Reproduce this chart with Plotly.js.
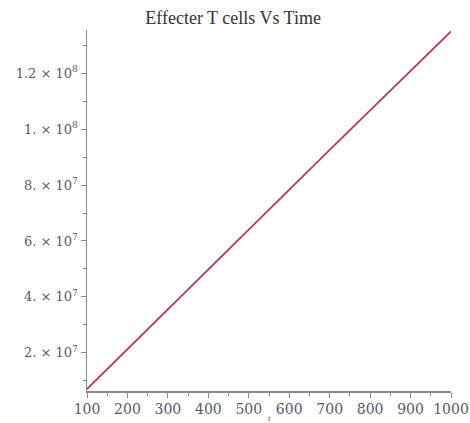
<!DOCTYPE html>
<html>
<head>
<meta charset="utf-8">
<script src="https://cdn.plot.ly/plotly-3.0.1.min.js"></script>
<style>html,body{margin:0;padding:0;background:#fff;}#chart{width:470px;height:423px;}</style>
</head>
<body>
<div id="chart"></div>
<script>
const time = [100, 200, 300, 400, 500, 600, 700, 800, 900, 1000];
const effectorT = [7.0e6, 2.13e7, 3.57e7, 5.0e7, 6.43e7, 7.85e7, 9.26e7, 1.067e8, 1.208e8, 1.35e8];
const yTickVals = [2e7, 4e7, 6e7, 8e7, 1e8, 1.2e8];
const yTickText = ["2. × 10<sup>7</sup>", "4. × 10<sup>7</sup>", "6. × 10<sup>7</sup>", "8. × 10<sup>7</sup>", "1. × 10<sup>8</sup>", "1.2 × 10<sup>8</sup>"];
const xTickVals = [100, 200, 300, 400, 500, 600, 700, 800, 900, 1000];
const xLabel = "t";

const yfont = {family: "DejaVu Serif, serif", size: 13, color: "#58586a"};
const xfont = {family: "DejaVu Serif, serif", size: 14, color: "#58586a"};
Plotly.newPlot("chart", [{
  x: time, y: effectorT, type: "scatter", mode: "lines",
  line: {color: "#b0404f", width: 1.8}
}], {
  width: 470, height: 423,
  margin: {l: 87, r: 19, t: 30, b: 32},
  paper_bgcolor: "#fff", plot_bgcolor: "#fff",
  showlegend: false,
  title: {text: "Effecter T cells Vs Time", x: 0.496, xanchor: "center", y: 0.958, yanchor: "middle",
          font: {family: "Liberation Serif, Times New Roman, serif", size: 18, color: "#333"}},
  xaxis: {
    range: [100, 1000], tickmode: "array", tickvals: xTickVals,
    ticks: "outside", ticklen: 5, tickcolor: "#888", tickwidth: 1,
    showline: true, linecolor: "#888", linewidth: 1.5, showgrid: false, zeroline: false,
    minor: {tickmode: "linear", tick0: 0, dtick: 50, ticks: "outside", ticklen: 3, tickcolor: "#888", showgrid: false},
    tickfont: xfont
  },
  yaxis: {
    range: [6.3e6, 1.355e8], tickmode: "array", tickvals: yTickVals, ticktext: yTickText,
    ticks: "outside", ticklen: 5, tickcolor: "#888", tickwidth: 1,
    showline: true, linecolor: "#888", linewidth: 1.5, showgrid: false, zeroline: false,
    minor: {tickmode: "linear", tick0: 0, dtick: 1e7, ticks: "outside", ticklen: 3, tickcolor: "#888", showgrid: false},
    tickfont: yfont
  },
  annotations: [{
    text: "<i>" + xLabel + "</i>", xref: "paper", yref: "paper", x: 0.5, y: -0.075,
    xanchor: "center", yanchor: "middle", showarrow: false, borderpad: 0,
    font: {family: "Liberation Serif, serif", size: 9, color: "#555"}
  }]
}, {displayModeBar: false, staticPlot: true});
</script>
</body>
</html>
